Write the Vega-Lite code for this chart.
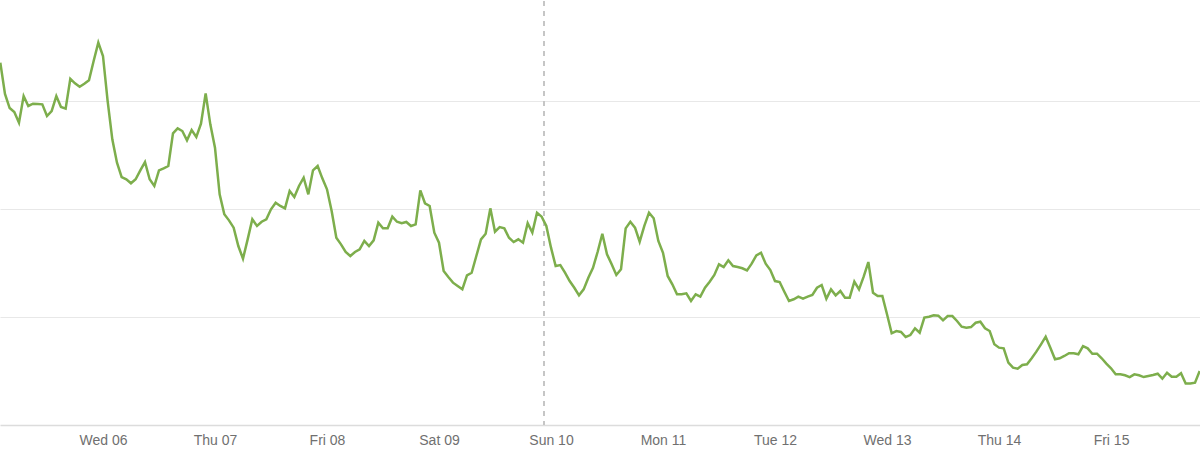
{
  "$schema": "https://vega.github.io/schema/vega-lite/v6.json",
  "width": 1200,
  "height": 424,
  "padding": 0,
  "background": "white",
  "config": {"view": {"stroke": null}},
  "layer": [
    {
      "data": {"values": [{"t": "2024-03-09T22:30:00Z"}]},
      "mark": {"type": "rule", "color": "#c6c6c6", "strokeWidth": 2, "strokeDash": [5, 5]},
      "encoding": {
        "x": {"field": "t", "type": "temporal", "scale": {"type": "utc", "domain": [{"year": 2024, "month": 3, "date": 5, "hours": 1, "minutes": 56, "utc": true}, {"year": 2024, "month": 3, "date": 15, "hours": 19, "minutes": 4, "utc": true}], "nice": false}}
      }
    },
    {
      "data": {"values": [
        {"t": "2024-03-05T02:00:00Z", "v": 33.55},
        {"t": "2024-03-05T03:00:00Z", "v": 30.65},
        {"t": "2024-03-05T04:00:00Z", "v": 29.35},
        {"t": "2024-03-05T05:00:00Z", "v": 28.98},
        {"t": "2024-03-05T06:00:00Z", "v": 27.99},
        {"t": "2024-03-05T07:00:00Z", "v": 30.46},
        {"t": "2024-03-05T08:00:00Z", "v": 29.54},
        {"t": "2024-03-05T09:00:00Z", "v": 29.75},
        {"t": "2024-03-05T10:00:00Z", "v": 29.72},
        {"t": "2024-03-05T11:00:00Z", "v": 29.69},
        {"t": "2024-03-05T12:00:00Z", "v": 28.61},
        {"t": "2024-03-05T13:00:00Z", "v": 29.07},
        {"t": "2024-03-05T14:00:00Z", "v": 30.46},
        {"t": "2024-03-05T15:00:00Z", "v": 29.44},
        {"t": "2024-03-05T16:00:00Z", "v": 29.29},
        {"t": "2024-03-05T17:00:00Z", "v": 32.06},
        {"t": "2024-03-05T18:00:00Z", "v": 31.64},
        {"t": "2024-03-05T19:00:00Z", "v": 31.32},
        {"t": "2024-03-05T20:00:00Z", "v": 31.6},
        {"t": "2024-03-05T21:00:00Z", "v": 31.92},
        {"t": "2024-03-05T22:00:00Z", "v": 33.7},
        {"t": "2024-03-05T23:00:00Z", "v": 35.4},
        {"t": "2024-03-06T00:00:00Z", "v": 34.17},
        {"t": "2024-03-06T01:00:00Z", "v": 30.0},
        {"t": "2024-03-06T02:00:00Z", "v": 26.45},
        {"t": "2024-03-06T03:00:00Z", "v": 24.29},
        {"t": "2024-03-06T04:00:00Z", "v": 22.96},
        {"t": "2024-03-06T05:00:00Z", "v": 22.75},
        {"t": "2024-03-06T06:00:00Z", "v": 22.38},
        {"t": "2024-03-06T07:00:00Z", "v": 22.75},
        {"t": "2024-03-06T08:00:00Z", "v": 23.58},
        {"t": "2024-03-06T09:00:00Z", "v": 24.35},
        {"t": "2024-03-06T10:00:00Z", "v": 22.75},
        {"t": "2024-03-06T11:00:00Z", "v": 22.13},
        {"t": "2024-03-06T12:00:00Z", "v": 23.58},
        {"t": "2024-03-06T13:00:00Z", "v": 23.77},
        {"t": "2024-03-06T14:00:00Z", "v": 23.98},
        {"t": "2024-03-06T15:00:00Z", "v": 27.01},
        {"t": "2024-03-06T16:00:00Z", "v": 27.47},
        {"t": "2024-03-06T17:00:00Z", "v": 27.22},
        {"t": "2024-03-06T18:00:00Z", "v": 26.36},
        {"t": "2024-03-06T19:00:00Z", "v": 27.31},
        {"t": "2024-03-06T20:00:00Z", "v": 26.67},
        {"t": "2024-03-06T21:00:00Z", "v": 27.9},
        {"t": "2024-03-06T22:00:00Z", "v": 30.71},
        {"t": "2024-03-06T23:00:00Z", "v": 27.84},
        {"t": "2024-03-07T00:00:00Z", "v": 25.68},
        {"t": "2024-03-07T01:00:00Z", "v": 21.36},
        {"t": "2024-03-07T02:00:00Z", "v": 19.51},
        {"t": "2024-03-07T03:00:00Z", "v": 18.95},
        {"t": "2024-03-07T04:00:00Z", "v": 18.27},
        {"t": "2024-03-07T05:00:00Z", "v": 16.57},
        {"t": "2024-03-07T06:00:00Z", "v": 15.4},
        {"t": "2024-03-07T07:00:00Z", "v": 17.19},
        {"t": "2024-03-07T08:00:00Z", "v": 19.05},
        {"t": "2024-03-07T09:00:00Z", "v": 18.43},
        {"t": "2024-03-07T10:00:00Z", "v": 18.82},
        {"t": "2024-03-07T11:00:00Z", "v": 19.05},
        {"t": "2024-03-07T12:00:00Z", "v": 19.97},
        {"t": "2024-03-07T13:00:00Z", "v": 20.58},
        {"t": "2024-03-07T14:00:00Z", "v": 20.28},
        {"t": "2024-03-07T15:00:00Z", "v": 20.06},
        {"t": "2024-03-07T16:00:00Z", "v": 21.67},
        {"t": "2024-03-07T17:00:00Z", "v": 21.11},
        {"t": "2024-03-07T18:00:00Z", "v": 22.13},
        {"t": "2024-03-07T19:00:00Z", "v": 22.9},
        {"t": "2024-03-07T20:00:00Z", "v": 21.36},
        {"t": "2024-03-07T21:00:00Z", "v": 23.58},
        {"t": "2024-03-07T22:00:00Z", "v": 23.98},
        {"t": "2024-03-07T23:00:00Z", "v": 22.84},
        {"t": "2024-03-08T00:00:00Z", "v": 21.82},
        {"t": "2024-03-08T01:00:00Z", "v": 19.81},
        {"t": "2024-03-08T02:00:00Z", "v": 17.34},
        {"t": "2024-03-08T03:00:00Z", "v": 16.73},
        {"t": "2024-03-08T04:00:00Z", "v": 16.02},
        {"t": "2024-03-08T05:00:00Z", "v": 15.65},
        {"t": "2024-03-08T06:00:00Z", "v": 16.02},
        {"t": "2024-03-08T07:00:00Z", "v": 16.27},
        {"t": "2024-03-08T08:00:00Z", "v": 17.04},
        {"t": "2024-03-08T09:00:00Z", "v": 16.57},
        {"t": "2024-03-08T10:00:00Z", "v": 17.1},
        {"t": "2024-03-08T11:00:00Z", "v": 18.73},
        {"t": "2024-03-08T12:00:00Z", "v": 18.21},
        {"t": "2024-03-08T13:00:00Z", "v": 18.21},
        {"t": "2024-03-08T14:00:00Z", "v": 19.29},
        {"t": "2024-03-08T15:00:00Z", "v": 18.82},
        {"t": "2024-03-08T16:00:00Z", "v": 18.68},
        {"t": "2024-03-08T17:00:00Z", "v": 18.8},
        {"t": "2024-03-08T18:00:00Z", "v": 18.43},
        {"t": "2024-03-08T19:00:00Z", "v": 18.58},
        {"t": "2024-03-08T20:00:00Z", "v": 21.73},
        {"t": "2024-03-08T21:00:00Z", "v": 20.53},
        {"t": "2024-03-08T22:00:00Z", "v": 20.28},
        {"t": "2024-03-08T23:00:00Z", "v": 17.81},
        {"t": "2024-03-09T00:00:00Z", "v": 16.88},
        {"t": "2024-03-09T01:00:00Z", "v": 14.26},
        {"t": "2024-03-09T02:00:00Z", "v": 13.7},
        {"t": "2024-03-09T03:00:00Z", "v": 13.18},
        {"t": "2024-03-09T04:00:00Z", "v": 12.87},
        {"t": "2024-03-09T05:00:00Z", "v": 12.56},
        {"t": "2024-03-09T06:00:00Z", "v": 13.86},
        {"t": "2024-03-09T07:00:00Z", "v": 14.1},
        {"t": "2024-03-09T08:00:00Z", "v": 15.65},
        {"t": "2024-03-09T09:00:00Z", "v": 17.19},
        {"t": "2024-03-09T10:00:00Z", "v": 17.71},
        {"t": "2024-03-09T11:00:00Z", "v": 20.06},
        {"t": "2024-03-09T12:00:00Z", "v": 17.9},
        {"t": "2024-03-09T13:00:00Z", "v": 18.33},
        {"t": "2024-03-09T14:00:00Z", "v": 18.21},
        {"t": "2024-03-09T15:00:00Z", "v": 17.34},
        {"t": "2024-03-09T16:00:00Z", "v": 16.94},
        {"t": "2024-03-09T17:00:00Z", "v": 17.19},
        {"t": "2024-03-09T18:00:00Z", "v": 16.88},
        {"t": "2024-03-09T19:00:00Z", "v": 18.68},
        {"t": "2024-03-09T20:00:00Z", "v": 17.81},
        {"t": "2024-03-09T21:00:00Z", "v": 19.66},
        {"t": "2024-03-09T22:00:00Z", "v": 19.29},
        {"t": "2024-03-09T23:00:00Z", "v": 18.43},
        {"t": "2024-03-10T00:00:00Z", "v": 16.42},
        {"t": "2024-03-10T01:00:00Z", "v": 14.72},
        {"t": "2024-03-10T02:00:00Z", "v": 14.81},
        {"t": "2024-03-10T03:00:00Z", "v": 14.1},
        {"t": "2024-03-10T04:00:00Z", "v": 13.33},
        {"t": "2024-03-10T05:00:00Z", "v": 12.71},
        {"t": "2024-03-10T06:00:00Z", "v": 12.01},
        {"t": "2024-03-10T07:00:00Z", "v": 12.56},
        {"t": "2024-03-10T08:00:00Z", "v": 13.64},
        {"t": "2024-03-10T09:00:00Z", "v": 14.56},
        {"t": "2024-03-10T10:00:00Z", "v": 16.04},
        {"t": "2024-03-10T11:00:00Z", "v": 17.71},
        {"t": "2024-03-10T12:00:00Z", "v": 15.81},
        {"t": "2024-03-10T13:00:00Z", "v": 14.88},
        {"t": "2024-03-10T14:00:00Z", "v": 13.89},
        {"t": "2024-03-10T15:00:00Z", "v": 14.42},
        {"t": "2024-03-10T16:00:00Z", "v": 18.21},
        {"t": "2024-03-10T17:00:00Z", "v": 18.82},
        {"t": "2024-03-10T18:00:00Z", "v": 18.27},
        {"t": "2024-03-10T19:00:00Z", "v": 16.97},
        {"t": "2024-03-10T20:00:00Z", "v": 18.43},
        {"t": "2024-03-10T21:00:00Z", "v": 19.66},
        {"t": "2024-03-10T22:00:00Z", "v": 19.14},
        {"t": "2024-03-10T23:00:00Z", "v": 17.04},
        {"t": "2024-03-11T00:00:00Z", "v": 15.95},
        {"t": "2024-03-11T01:00:00Z", "v": 13.8},
        {"t": "2024-03-11T02:00:00Z", "v": 13.03},
        {"t": "2024-03-11T03:00:00Z", "v": 12.1},
        {"t": "2024-03-11T04:00:00Z", "v": 12.1},
        {"t": "2024-03-11T05:00:00Z", "v": 12.19},
        {"t": "2024-03-11T06:00:00Z", "v": 11.48},
        {"t": "2024-03-11T07:00:00Z", "v": 12.1},
        {"t": "2024-03-11T08:00:00Z", "v": 11.88},
        {"t": "2024-03-11T09:00:00Z", "v": 12.71},
        {"t": "2024-03-11T10:00:00Z", "v": 13.27},
        {"t": "2024-03-11T11:00:00Z", "v": 13.89},
        {"t": "2024-03-11T12:00:00Z", "v": 14.88},
        {"t": "2024-03-11T13:00:00Z", "v": 14.63},
        {"t": "2024-03-11T14:00:00Z", "v": 15.25},
        {"t": "2024-03-11T15:00:00Z", "v": 14.72},
        {"t": "2024-03-11T16:00:00Z", "v": 14.63},
        {"t": "2024-03-11T17:00:00Z", "v": 14.51},
        {"t": "2024-03-11T18:00:00Z", "v": 14.32},
        {"t": "2024-03-11T19:00:00Z", "v": 14.94},
        {"t": "2024-03-11T20:00:00Z", "v": 15.71},
        {"t": "2024-03-11T21:00:00Z", "v": 15.95},
        {"t": "2024-03-11T22:00:00Z", "v": 14.94},
        {"t": "2024-03-11T23:00:00Z", "v": 14.35},
        {"t": "2024-03-12T00:00:00Z", "v": 13.33},
        {"t": "2024-03-12T01:00:00Z", "v": 13.24},
        {"t": "2024-03-12T02:00:00Z", "v": 12.34},
        {"t": "2024-03-12T03:00:00Z", "v": 11.48},
        {"t": "2024-03-12T04:00:00Z", "v": 11.64},
        {"t": "2024-03-12T05:00:00Z", "v": 11.88},
        {"t": "2024-03-12T06:00:00Z", "v": 11.69},
        {"t": "2024-03-12T07:00:00Z", "v": 11.88},
        {"t": "2024-03-12T08:00:00Z", "v": 12.04},
        {"t": "2024-03-12T09:00:00Z", "v": 12.71},
        {"t": "2024-03-12T10:00:00Z", "v": 12.96},
        {"t": "2024-03-12T11:00:00Z", "v": 11.69},
        {"t": "2024-03-12T12:00:00Z", "v": 12.56},
        {"t": "2024-03-12T13:00:00Z", "v": 12.01},
        {"t": "2024-03-12T14:00:00Z", "v": 12.41},
        {"t": "2024-03-12T15:00:00Z", "v": 11.79},
        {"t": "2024-03-12T16:00:00Z", "v": 11.79},
        {"t": "2024-03-12T17:00:00Z", "v": 13.27},
        {"t": "2024-03-12T18:00:00Z", "v": 12.56},
        {"t": "2024-03-12T19:00:00Z", "v": 13.73},
        {"t": "2024-03-12T20:00:00Z", "v": 15.09},
        {"t": "2024-03-12T21:00:00Z", "v": 12.25},
        {"t": "2024-03-12T22:00:00Z", "v": 11.94},
        {"t": "2024-03-12T23:00:00Z", "v": 11.94},
        {"t": "2024-03-13T00:00:00Z", "v": 10.25},
        {"t": "2024-03-13T01:00:00Z", "v": 8.49},
        {"t": "2024-03-13T02:00:00Z", "v": 8.7},
        {"t": "2024-03-13T03:00:00Z", "v": 8.61},
        {"t": "2024-03-13T04:00:00Z", "v": 8.15},
        {"t": "2024-03-13T05:00:00Z", "v": 8.33},
        {"t": "2024-03-13T06:00:00Z", "v": 8.95},
        {"t": "2024-03-13T07:00:00Z", "v": 8.55},
        {"t": "2024-03-13T08:00:00Z", "v": 9.94},
        {"t": "2024-03-13T09:00:00Z", "v": 10.03},
        {"t": "2024-03-13T10:00:00Z", "v": 10.16},
        {"t": "2024-03-13T11:00:00Z", "v": 10.12},
        {"t": "2024-03-13T12:00:00Z", "v": 9.69},
        {"t": "2024-03-13T13:00:00Z", "v": 10.09},
        {"t": "2024-03-13T14:00:00Z", "v": 10.09},
        {"t": "2024-03-13T15:00:00Z", "v": 9.63},
        {"t": "2024-03-13T16:00:00Z", "v": 9.1},
        {"t": "2024-03-13T17:00:00Z", "v": 9.01},
        {"t": "2024-03-13T18:00:00Z", "v": 9.07},
        {"t": "2024-03-13T19:00:00Z", "v": 9.47},
        {"t": "2024-03-13T20:00:00Z", "v": 9.56},
        {"t": "2024-03-13T21:00:00Z", "v": 8.95},
        {"t": "2024-03-13T22:00:00Z", "v": 8.7},
        {"t": "2024-03-13T23:00:00Z", "v": 7.47},
        {"t": "2024-03-14T00:00:00Z", "v": 7.16},
        {"t": "2024-03-14T01:00:00Z", "v": 7.1},
        {"t": "2024-03-14T02:00:00Z", "v": 5.77},
        {"t": "2024-03-14T03:00:00Z", "v": 5.31},
        {"t": "2024-03-14T04:00:00Z", "v": 5.21},
        {"t": "2024-03-14T05:00:00Z", "v": 5.56},
        {"t": "2024-03-14T06:00:00Z", "v": 5.62},
        {"t": "2024-03-14T07:00:00Z", "v": 6.18},
        {"t": "2024-03-14T08:00:00Z", "v": 6.79},
        {"t": "2024-03-14T09:00:00Z", "v": 7.47},
        {"t": "2024-03-14T10:00:00Z", "v": 8.18},
        {"t": "2024-03-14T11:00:00Z", "v": 7.16},
        {"t": "2024-03-14T12:00:00Z", "v": 6.08},
        {"t": "2024-03-14T13:00:00Z", "v": 6.18},
        {"t": "2024-03-14T14:00:00Z", "v": 6.39},
        {"t": "2024-03-14T15:00:00Z", "v": 6.64},
        {"t": "2024-03-14T16:00:00Z", "v": 6.64},
        {"t": "2024-03-14T17:00:00Z", "v": 6.55},
        {"t": "2024-03-14T18:00:00Z", "v": 7.31},
        {"t": "2024-03-14T19:00:00Z", "v": 7.1},
        {"t": "2024-03-14T20:00:00Z", "v": 6.6},
        {"t": "2024-03-14T21:00:00Z", "v": 6.6},
        {"t": "2024-03-14T22:00:00Z", "v": 6.18},
        {"t": "2024-03-14T23:00:00Z", "v": 5.68},
        {"t": "2024-03-15T00:00:00Z", "v": 5.25},
        {"t": "2024-03-15T01:00:00Z", "v": 4.69},
        {"t": "2024-03-15T02:00:00Z", "v": 4.69},
        {"t": "2024-03-15T03:00:00Z", "v": 4.6},
        {"t": "2024-03-15T04:00:00Z", "v": 4.44},
        {"t": "2024-03-15T05:00:00Z", "v": 4.69},
        {"t": "2024-03-15T06:00:00Z", "v": 4.6},
        {"t": "2024-03-15T07:00:00Z", "v": 4.44},
        {"t": "2024-03-15T08:00:00Z", "v": 4.54},
        {"t": "2024-03-15T09:00:00Z", "v": 4.63},
        {"t": "2024-03-15T10:00:00Z", "v": 4.75},
        {"t": "2024-03-15T11:00:00Z", "v": 4.29},
        {"t": "2024-03-15T12:00:00Z", "v": 4.84},
        {"t": "2024-03-15T13:00:00Z", "v": 4.47},
        {"t": "2024-03-15T14:00:00Z", "v": 4.47},
        {"t": "2024-03-15T15:00:00Z", "v": 4.79},
        {"t": "2024-03-15T16:00:00Z", "v": 3.85},
        {"t": "2024-03-15T17:00:00Z", "v": 3.85},
        {"t": "2024-03-15T18:00:00Z", "v": 3.92},
        {"t": "2024-03-15T19:00:00Z", "v": 5.0}
      ]},
      "mark": {"type": "line", "color": "#7dae4c", "strokeWidth": 2.5, "strokeJoin": "miter", "clip": true},
      "encoding": {
        "x": {
          "field": "t", "type": "temporal", "title": null,
          "scale": {"type": "utc", "domain": [{"year": 2024, "month": 3, "date": 5, "hours": 1, "minutes": 56, "utc": true}, {"year": 2024, "month": 3, "date": 15, "hours": 19, "minutes": 4, "utc": true}], "nice": false},
          "axis": {
            "values": [
              {"year": 2024, "month": 3, "date": 6, "utc": true},
              {"year": 2024, "month": 3, "date": 7, "utc": true},
              {"year": 2024, "month": 3, "date": 8, "utc": true},
              {"year": 2024, "month": 3, "date": 9, "utc": true},
              {"year": 2024, "month": 3, "date": 10, "utc": true},
              {"year": 2024, "month": 3, "date": 11, "utc": true},
              {"year": 2024, "month": 3, "date": 12, "utc": true},
              {"year": 2024, "month": 3, "date": 13, "utc": true},
              {"year": 2024, "month": 3, "date": 14, "utc": true},
              {"year": 2024, "month": 3, "date": 15, "utc": true}
            ],
            "labelExpr": "utcFormat(datum.value, '%a %d')",
            "grid": false, "ticks": false,
            "domainColor": "#dcdcdc", "domainWidth": 1.5,
            "labelColor": "#707070", "labelFont": "Liberation Sans", "labelFontSize": 14,
            "labelPadding": 8, "labelFlush": false, "labelOverlap": false
          }
        },
        "y": {
          "field": "v", "type": "quantitative", "title": null,
          "scale": {"domain": [0, 39.26], "nice": false, "zero": true},
          "axis": {"values": [10, 20, 30], "labels": false, "ticks": false, "domain": false, "grid": true, "gridColor": "#e8e8e8", "gridWidth": 1.2}
        }
      }
    }
  ]
}
